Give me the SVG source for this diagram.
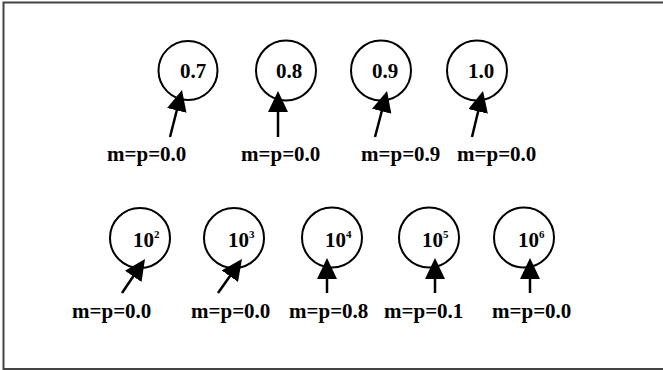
<svg xmlns="http://www.w3.org/2000/svg" width="663" height="370" viewBox="0 0 663 370">
<style>
.n{fill:none;stroke:#000;stroke-width:2}
.t{font-family:"Liberation Serif","Times New Roman",serif;font-weight:bold;font-size:21px;fill:#000}
.s{font-size:11px}
.c line{stroke:#000;stroke-width:2.5;marker-end:url(#ah)}
.f{fill:none;stroke:#444;stroke-width:2}
</style>
<defs>
<marker id="ah" markerUnits="userSpaceOnUse" markerWidth="21" markerHeight="20" viewBox="0 0 21 20" refX="11" refY="10" orient="auto">
<path d="M0,0 L21,10 L0,20 z" fill="#000"/>
</marker>
</defs>
<rect x="0" y="0" width="663" height="370" fill="#fff"/>
<path class="f" d="M663,2.5 H3.5 V369 H663"/>
<g id="n07"><circle class="n" cx="188" cy="70.5" r="29.5"/><text class="t" x="180" y="78">0.7</text><text class="t" x="107" y="161">m=p=0.0</text></g>
<g id="n08"><circle class="n" cx="286" cy="70.5" r="30"/><text class="t" x="276" y="78">0.8</text><text class="t" x="241" y="161">m=p=0.0</text></g>
<g id="n09"><circle class="n" cx="381" cy="70.5" r="30"/><text class="t" x="372" y="78">0.9</text><text class="t" x="361" y="161">m=p=0.9</text></g>
<g id="n10"><circle class="n" cx="477" cy="70.5" r="30"/><text class="t" x="468" y="78">1.0</text><text class="t" x="457" y="161">m=p=0.0</text></g>
<g id="n1e2"><circle class="n" cx="140" cy="238" r="30"/><text class="t" x="133" y="247">10<tspan class="s" dy="-9">2</tspan></text><text class="t" x="72" y="318">m=p=0.0</text></g>
<g id="n1e3"><circle class="n" cx="234" cy="238" r="30"/><text class="t" x="228" y="247">10<tspan class="s" dy="-9">3</tspan></text><text class="t" x="191" y="318">m=p=0.0</text></g>
<g id="n1e4"><circle class="n" cx="332" cy="237.5" r="30"/><text class="t" x="325" y="247">10<tspan class="s" dy="-9">4</tspan></text><text class="t" x="289" y="318">m=p=0.8</text></g>
<g id="n1e5"><circle class="n" cx="429" cy="237.5" r="30"/><text class="t" x="422" y="247">10<tspan class="s" dy="-9">5</tspan></text><text class="t" x="384" y="318">m=p=0.1</text></g>
<g id="n1e6"><circle class="n" cx="524" cy="237.5" r="30"/><text class="t" x="518" y="247">10<tspan class="s" dy="-9">6</tspan></text><text class="t" x="492" y="318">m=p=0.0</text></g>
<g id="connectors" class="c">
<line x1="170" y1="137" x2="179.5" y2="99.7"/>
<line x1="278" y1="137" x2="278" y2="101"/>
<line x1="375" y1="137" x2="384.5" y2="100.7"/>
<line x1="472" y1="137" x2="480.7" y2="100.7"/>
<line x1="122" y1="293" x2="139.4" y2="267.3"/>
<line x1="218" y1="293" x2="236.2" y2="267.2"/>
<line x1="327" y1="293" x2="327" y2="268"/>
<line x1="435" y1="293" x2="435" y2="268"/>
<line x1="530" y1="293" x2="530" y2="268"/>
</g>
</svg>
